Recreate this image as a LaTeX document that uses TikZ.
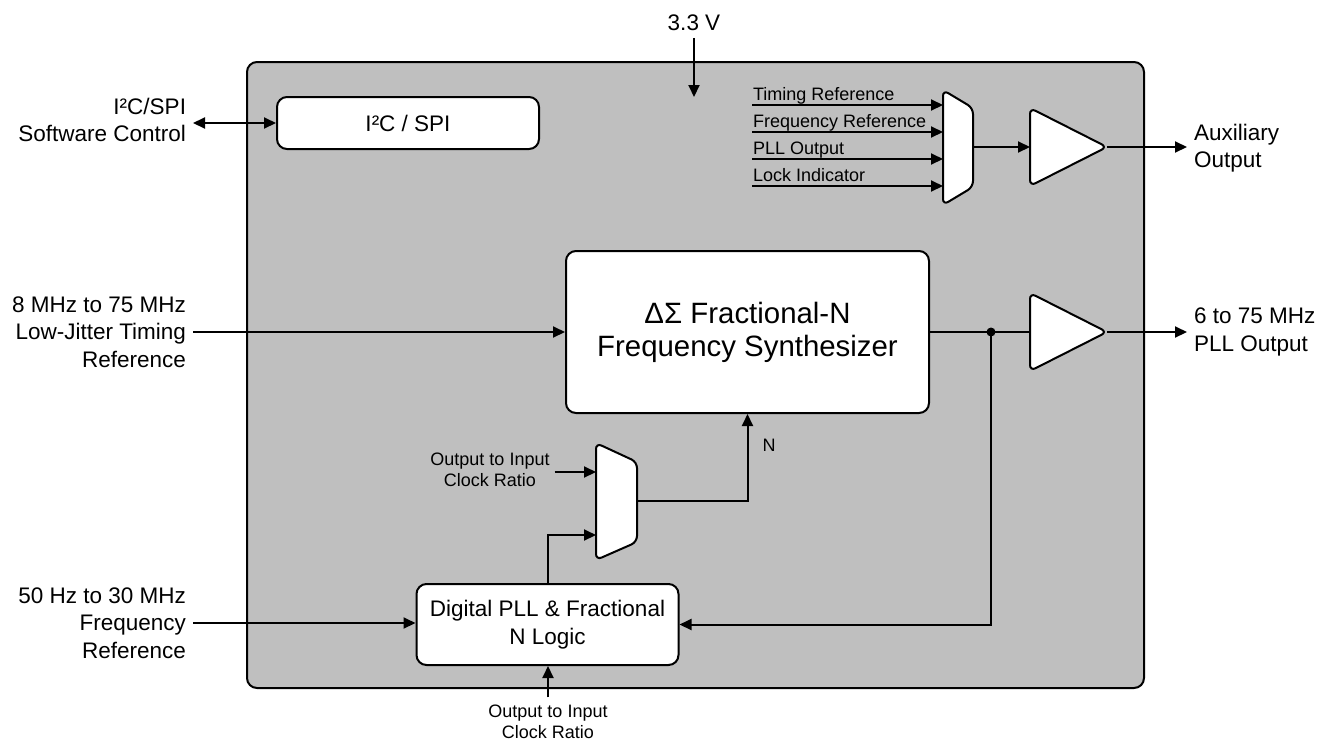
\documentclass[tikz,border=0pt]{standalone}
\usepackage{fontspec}
\setmainfont{Liberation Sans}
\usetikzlibrary{arrows.meta,positioning}

\tikzset{
  block/.style={draw, fill=white, rounded corners=5pt, align=center, font=\fontsize{11.25}{13.75}\selectfont},
  part/.style={draw, fill=white, rounded corners=3pt},
  lbl/.style={font=\fontsize{11.25}{13.75}\selectfont, inner sep=3pt},
  small/.style={font=\fontsize{9}{10.5}\selectfont},
}

\begin{document}
\begin{tikzpicture}[x=0.5pt,y=-0.5pt,line width=1pt,>={Triangle[length=6pt,width=5.5pt]}]
\useasboundingbox (0,0) rectangle (1328,740);

\draw[fill=black!25, rounded corners=5pt] (247,62) rectangle (1144,688);

\node[lbl] (vcc) at (694,23) {3.3 V};
\coordinate (vccin) at (694,97);
\draw[->] (vcc) -- (vccin);

\node[block, minimum width=131pt, minimum height=26pt] (i2c) at (408,123) {I²C / SPI};
\node[lbl, anchor=east, align=right] (sw) at (193,120) {I²C/SPI\\Software Control};
\draw[<->] (sw.east |- i2c) -- (i2c);

\node[block, minimum width=181.5pt, minimum height=81pt, font=\fontsize{14.7}{16.5}\selectfont] (synth) at (747.5,332) {ΔΣ Fractional-N\\Frequency Synthesizer};
\node[lbl, anchor=east, align=right] (tref) at (193,332) {8 MHz to 75 MHz\\Low-Jitter Timing\\Reference};
\draw[->] (tref) -- (synth);

\node[block, minimum width=131pt, minimum height=40.5pt] (dpll) at (547.5,624.5) {Digital PLL \& Fractional\\N Logic};
\node[lbl, anchor=east, align=right] (fref) at (193,623) {50 Hz to 30 MHz\\Frequency\\Reference};
\draw[->] (fref.east) -- (fref.east -| dpll.west);
\node[small, align=center] (ratio) at (548,722) {Output to Input\\Clock Ratio};
\draw[->] (ratio.north) -- (ratio.north |- dpll.south);

% buffers
\foreach \n/\y in {aux/147,pll/332} {
\draw[part] (1030,\y-39) -- (1107,\y) -- (1030,\y+39) -- cycle;
\coordinate (\n-in) at (1030,\y);
\coordinate (\n-out) at (1107,\y);
}

% output select
\draw[part] (943,90) -- (973,108) -- (973,187) -- (943,205) -- cycle;
\coordinate (sel-out) at (973,147);
\foreach \y/\t [count=\i] in {105/Timing Reference,132/Frequency Reference,159/PLL Output,186/Lock Indicator} {
\coordinate (in\i) at (752,\y);
\coordinate (sel\i) at (943,\y);
\node[small, anchor=base west, inner sep=0pt] (t\i) at (752,\y-5) {\t};
\draw[->] (in\i) -- (sel\i);
}
\draw[->] (sel-out) -- (aux-in);
\node[lbl, anchor=west, align=left] (auxo) at (1187,148) {Auxiliary\\Output};
\draw[->] (aux-out) -- (auxo.west |- aux-out);

% N select
\draw[part] (596,443) -- (637,462) -- (637,542) -- (596,560) -- cycle;
\coordinate (nsel1) at (596,472);
\coordinate (nsel2) at (596,535);
\coordinate (nsel-out) at (637,501);
\node[small, align=center, inner sep=2pt] (ratio2) at (490,470) {Output to Input\\Clock Ratio};
\draw[->] (ratio2.east |- nsel1) -- (nsel1);
\draw[->] (dpll.north) |- (nsel2);
\draw[->] (nsel-out) -| (synth.south);
\node[small] (n) at (769,445) {N};

% PLL output
\coordinate (tap) at (991,332);
\draw (synth.east) -- (pll-in);
\fill (tap) circle (4.5);
\node[lbl, anchor=west, align=left] (pllo) at (1187,332) {6 to 75 MHz\\PLL Output};
\draw[->] (pll-out) -- (pllo.west);
\draw[->] (tap) |- (dpll.east);
\end{tikzpicture}
\end{document}
